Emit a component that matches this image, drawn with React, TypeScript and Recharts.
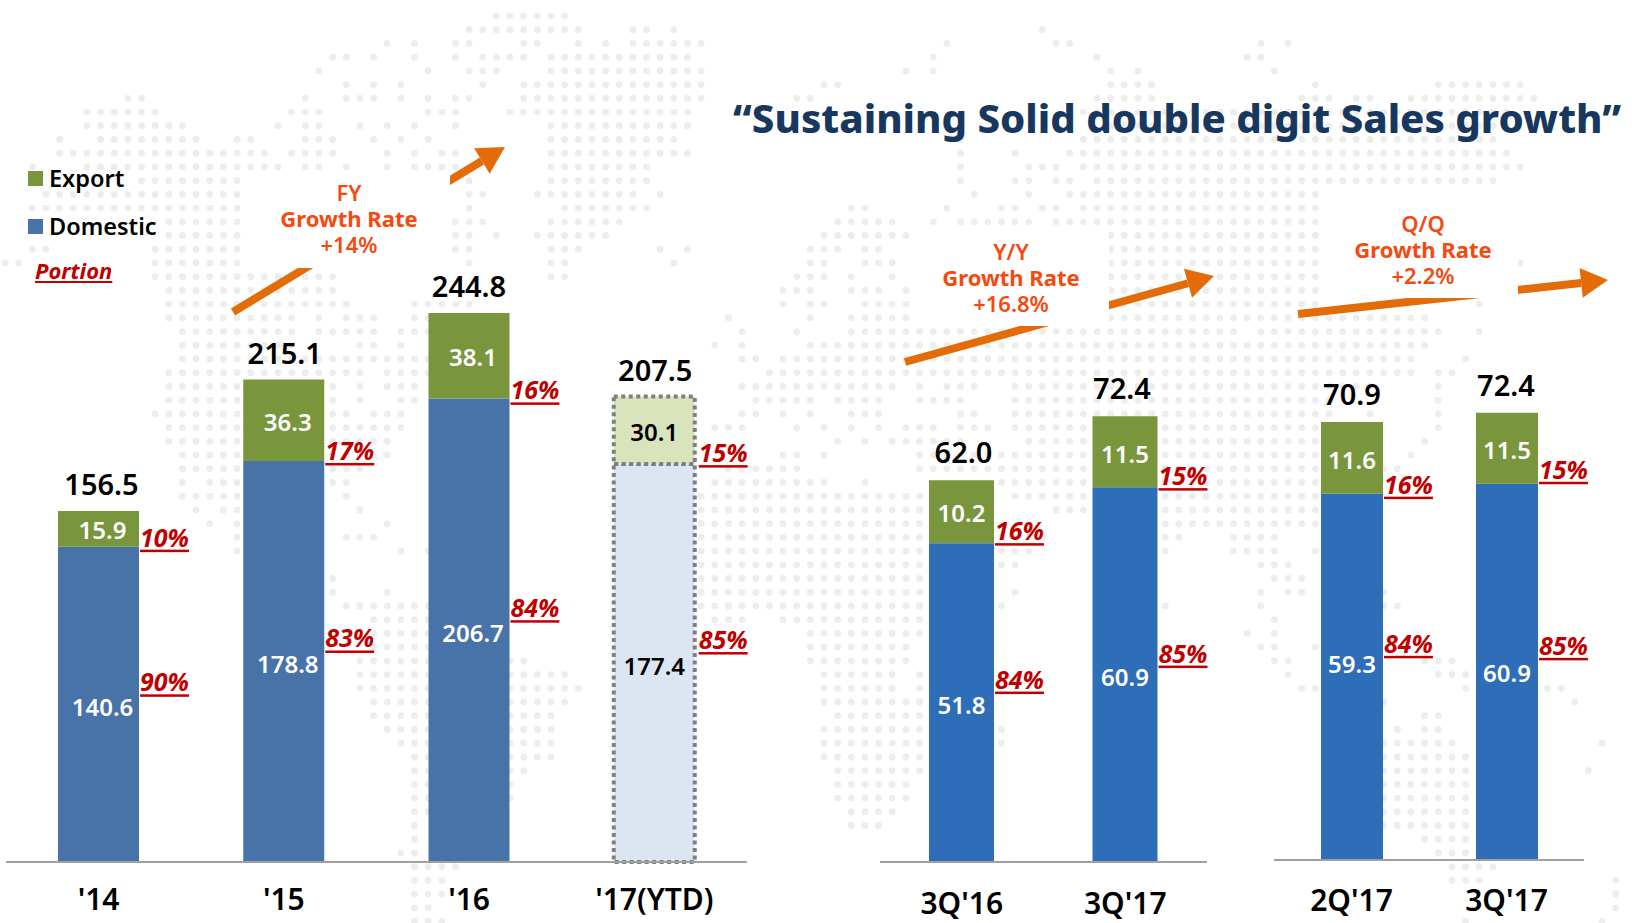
import { BarChart, Bar, Cell, XAxis, YAxis, LabelList, Legend } from 'recharts'

const FONT = '"Noto Sans", sans-serif'

// full year panel
const fyCategories = ["'14", "'15", "'16", "'17(YTD)"]
const fyDomestic = [140.6, 178.8, 206.7, 177.4]
const fyExport = [15.9, 36.3, 38.1, 30.1]
const fyTotal = [156.5, 215.1, 244.8, 207.5]
const fyDomesticPct = ['90%', '83%', '84%', '85%']
const fyExportPct = ['10%', '17%', '16%', '15%']

// year on year panel
const yyCategories = ["3Q'16", "3Q'17"]
const yyDomestic = [51.8, 60.9]
const yyExport = [10.2, 11.5]
const yyTotal = [62.0, 72.4]
const yyDomesticPct = ['84%', '85%']
const yyExportPct = ['16%', '15%']

// quarter on quarter panel
const qqCategories = ["2Q'17", "3Q'17"]
const qqDomestic = [59.3, 60.9]
const qqExport = [11.6, 11.5]
const qqTotal = [70.9, 72.4]
const qqDomesticPct = ['84%', '85%']
const qqExportPct = ['16%', '15%']

const legendItems = [
  { name: 'Export', color: '#7A963D' },
  { name: 'Domestic', color: '#4773A8' },
]

// background dot map, one string per row, column spans
const MAP_ROWS = [
  '36-41',
  '34-42 46-47 49 76',
  '28 30 33-34 38-39 42 44 46-51 69 77-78 92 94',
  '24-25 27 30 33 35-38 40-50 68 80 91-92',
  '23 31 34-36 40-51 66 68 81 83 93',
  '25 27 29 35 38-51 60-61 81-84 96 105-110 111',
  '9-10 22 25-27 29 31 33-34 38-51 58-59 80-84 95-97 99-100 103-112',
  '6-11 21-23 31-33 37-50 79-110',
  '6-13 20 22-23 26 28 30 33 40-50 70 81-110',
  '4 7-14 17-18 22-24 27 29 31 40-49 70 79-109',
  '4-19 21-24 28 30 32-33 40-50 70 74 78-110',
  '2 6-20 22-23 25 28 30-33 40-47 70 75-77 79-111',
  '10-17 34 40-47 70 74-75 77-78 80-109',
  '3-17 34-35 39-46 48 71 75 78-106 109-110',
  '2-17 34 41-47 62-63 69 73-74 76-77 79-96',
  '12-17 33-35 40-45 61-65 68 70-75 77-96',
  '12-17 33-34 36 39-44 60-66 81-96',
  '2-3 11-17 33-34 40-42 48 50 59-61 63-64 81-96',
  '0-1 11-17 34 40-41 49 59-60 63-65 81-96 111',
  '11-24 40-41 58-60 62 65 81-87 89-96',
  '12-24 57-59 62-64 66 81-87 88-96',
  '12-25 30-34 57 59-60 63-66 81-89 90-96 108',
  '12-21 23 25-27 30-34 53 59 62-66 81-91 92-103 104',
  '13-21 23-27 29-31 54 58 62-90 92-105 108',
  '13-21 26-27 29 52 54 59-89 90-103 104',
  '13-31 54-55 57-103 107',
  '12-26 28-31 56-103 105-106',
  '12-24 26 28-30 54-65 67 69-71 74-99 100 105',
  '12-24 26 29-30 55-59 61-64 67-70 74-97 105',
  '11-25 27-29 54-55 57 59 62-64 70-71 74-97 100 105',
  '12-29 52-54 58 60 62 64 66-68 70-72 74-97 105',
  '12-28 61 63 65-70 75-96 104',
  '13-17 24-28 57-58 60 67-79 85-96 103',
  '13-17 24-26 53-58 67-102',
  '13 15-17 24-25 52-60 63 73-100',
  '13-17 25 51-67 74-96',
  '14 16-17 26 51-67 77-79 85-96',
  '15 17 28 51-67 85-96',
  '17 25-27 51-67 73-76 85-86 90-93',
  '17 29 31 51-67 73-75 85 90-93 96',
  '51-67 73-74 92-94',
  '24 51-67 93-95',
  '24 28 51-67 74 92 94-95 101',
  '25-31 51-67 73 85 92 101-102',
  '27-31 52-54 57-67 93',
  '27-31 59-67 91 93',
  '27-31 59-66 92-93 96',
  '26-31 37-38 59-66 93-94 104-106',
  '26-31 37-41 60-65 67 94 105-107',
  '26-31 37-42 60-65 67 95-96 107 113-114',
  '27-31 37-41 60-67 101 115',
  '27-31 37-40 61-67 104-105',
  '28-31 37-40 60-67 73 102 104-105',
  '29-31 37-40 60-67 73 101-106 117',
  '30-31 37-40 60-67 101-107',
  '30-31 37-38 61-67 101-107 116',
  '30-31 37 61-66 101-107',
  '30-31 37 61-66 101-107',
  '30-31 62-65 101-107',
  '30 62-64 101-107',
  '30 104-107',
  '29-30 105-107',
  '30-33 106-109',
  '30-32 106-108 118',
  '30-32 118',
  '30-31 118',
  '30-32 107 117',
]

function DotMap() {
  const dots: any[] = []
  MAP_ROWS.forEach((row, r) => {
    row.split(' ').forEach((span) => {
      const [a, b] = span.split('-').map(Number)
      for (let c = a; c <= (b ?? a); c++) {
        dots.push(<circle key={`${r}-${c}`} cx={5 + c * 13.65} cy={16 + r * 13.72} r={3.4} fill="#EDEDED" />)
      }
    })
  })
  return (
    <svg width={1632} height={923} style={{ position: 'absolute', left: 0, top: 0 }}>
      {dots}
    </svg>
  )
}

function buildRows(cats: string[], dom: number[], exp: number[], total: number[], domPct: string[], expPct: string[]) {
  return cats.map((name, i) => ({
    name,
    domestic: dom[i],
    export: exp[i],
    total: total[i],
    domesticPct: domPct[i],
    exportPct: expPct[i],
  }))
}

function insideLabel(nudge: number, estimate: number, shifts: number[]) {
  return (props: any) => {
    const { x, y, width, height } = props.viewBox ?? props
    return (
      <text
        x={x + width / 2 + (props.index === estimate ? 0 : nudge)}
        y={y + height / 2 + shifts[props.index]}
        textAnchor="middle"
        dominantBaseline="central"
        fontFamily={FONT}
        fontSize={24}
        fontWeight={600}
        fill={props.index === estimate ? '#000' : '#fff'}
      >
        {Number(props.value).toFixed(1)}
      </text>
    )
  }
}

function pctLabel(kind: 'export' | 'domestic', shifts: number[], estimate: number) {
  return (props: any) => {
    const { x, y, width, height } = props.viewBox ?? props
    const cy = kind === 'export' ? y + height : y + height / 2
    return (
      <text
        x={x + width + (props.index === estimate ? 4 : 1)}
        y={cy + shifts[props.index]}
        dominantBaseline="central"
        fontFamily={FONT}
        fontSize={25}
        fontWeight={700}
        fontStyle="italic"
        fill="#C00000"
        textDecoration="underline"
      >
        {props.value}
      </text>
    )
  }
}

function totalLabel(shifts: number[], lift: number) {
  return (props: any) => {
    const { x, y, width } = props.viewBox ?? props
    return (
      <text
        x={x + width / 2 + shifts[props.index]}
        y={y - lift}
        textAnchor="middle"
        dominantBaseline="central"
        fontFamily={FONT}
        fontSize={29}
        fontWeight={600}
        fill="#000"
      >
        {Number(props.value).toFixed(1)}
      </text>
    )
  }
}

function LegendBox() {
  return (
    <div style={{ position: 'relative', fontFamily: FONT }}>
      {legendItems.map((item, i) => (
        <div key={item.name} style={{ position: 'absolute', left: 0, top: i * 48, display: 'flex', alignItems: 'center', height: 16 }}>
          <span style={{ width: 15, height: 15, background: item.color, marginRight: 6, display: 'block' }} />
          <span style={{ fontSize: 23.5, fontWeight: 600, color: '#000', whiteSpace: 'nowrap' }}>{item.name}</span>
        </div>
      ))}
      <span
        style={{
          position: 'absolute',
          left: 7,
          top: 85,
          fontSize: 22,
          fontWeight: 700,
          fontStyle: 'italic',
          color: '#C00000',
          textDecoration: 'underline',
        }}
      >
        Portion
      </span>
    </div>
  )
}

interface PanelProps {
  left: number
  top: number
  width: number
  plotHeight: number
  domainMax: number
  barSize: number
  rows: any[]
  domesticColor: string
  tickMargin: number
  domShift: number[]
  expShift: number[]
  domValueShift: number[]
  expValueShift: number[]
  totalShift: number[]
  totalLift: number
  nudge?: number
  estimate?: number
  legend?: boolean
}

const RIGHT_PAD = 50

function Panel({ left, top, width, plotHeight, domainMax, barSize, rows, domesticColor, tickMargin, domShift, expShift, domValueShift, expValueShift, totalShift, totalLift, nudge = 0, estimate = -1, legend }: PanelProps) {
  const dashed = { stroke: '#7F7F7F', strokeWidth: 4, strokeDasharray: '4 3.5' }
  return (
    <div style={{ position: 'absolute', left, top }}>
      <BarChart width={width + RIGHT_PAD} height={plotHeight + 61} data={rows} margin={{ top: 0, right: RIGHT_PAD, bottom: 0, left: 0 }}>
        <XAxis
          dataKey="name"
          height={61}
          stroke="#A0A0A0"
          strokeWidth={2}
          tickLine={false}
          tickMargin={tickMargin}
          tick={{ fontFamily: FONT, fontSize: 30, fontWeight: 600, fill: '#000' }}
          interval={0}
        />
        <YAxis hide domain={[0, domainMax]} />
        {legend && (
          <Legend content={<LegendBox />} wrapperStyle={{ left: 22, top: -64, width: 0, height: 0, bottom: 'auto' }} />
        )}
        <Bar dataKey="domestic" stackId="a" barSize={barSize} fill={domesticColor} isAnimationActive={false}>
          {rows.map((r, i) =>
            i === estimate ? <Cell key={r.name} fill="#DCE6F2" {...dashed} /> : <Cell key={r.name} fill={domesticColor} />
          )}
          <LabelList dataKey="domestic" content={insideLabel(nudge, estimate, domValueShift)} />
          <LabelList dataKey="domesticPct" content={pctLabel('domestic', domShift, estimate)} />
        </Bar>
        <Bar dataKey="export" stackId="a" barSize={barSize} fill="#7A963D" isAnimationActive={false}>
          {rows.map((r, i) =>
            i === estimate ? <Cell key={r.name} fill="#D9E4BD" {...dashed} /> : <Cell key={r.name} fill="#7A963D" />
          )}
          <LabelList dataKey="export" content={insideLabel(nudge, estimate, expValueShift)} />
          <LabelList dataKey="exportPct" content={pctLabel('export', expShift, estimate)} />
          <LabelList dataKey="total" content={totalLabel(totalShift, totalLift)} />
        </Bar>
      </BarChart>
    </div>
  )
}

function Arrow({ x1, y1, x2, y2, cut }: { x1: number; y1: number; x2: number; y2: number; cut: number[] }) {
  const len = Math.hypot(x2 - x1, y2 - y1)
  const ux = (x2 - x1) / len
  const uy = (y2 - y1) / len
  const bx = x2 - ux * 27
  const by = y2 - uy * 27
  const head = `${x2},${y2} ${bx - uy * 15},${by + ux * 15} ${bx + uy * 15},${by - ux * 15}`
  return (
    <g>
      <line x1={x1} y1={y1} x2={bx} y2={by} stroke="#E36C09" strokeWidth={8} />
      <polygon points={head} fill="#E36C09" />
      <rect x={cut[0]} y={cut[1]} width={cut[2] - cut[0]} height={cut[3] - cut[1]} fill="#fff" />
    </g>
  )
}

function GrowthNote({ x, y, lines }: { x: number; y: number; lines: string[] }) {
  return (
    <text textAnchor="middle" fontFamily={FONT} fontSize={22} fill="#F4490F">
      <tspan x={x} y={y} fontWeight={600}>{lines[0]}</tspan>
      <tspan x={x} y={y + 26} fontWeight={700}>{lines[1]}</tspan>
      <tspan x={x} y={y + 52} fontWeight={600}>{lines[2]}</tspan>
    </text>
  )
}

export default function App() {
  const fyRows = buildRows(fyCategories, fyDomestic, fyExport, fyTotal, fyDomesticPct, fyExportPct)
  const yyRows = buildRows(yyCategories, yyDomestic, yyExport, yyTotal, yyDomesticPct, yyExportPct)
  const qqRows = buildRows(qqCategories, qqDomestic, qqExport, qqTotal, qqDomesticPct, qqExportPct)

  return (
    <div style={{ position: 'absolute', left: 0, top: 0, width: 1632, height: 923, background: '#fff', overflow: 'hidden' }}>
      <DotMap />
      <svg width={1632} height={923} style={{ position: 'absolute', left: 0, top: 0 }}>
        <Arrow x1={233} y1={312} x2={505} y2={147} cut={[246, 172, 450, 268]} />
        <Arrow x1={905} y1={362} x2={1214} y2={276} cut={[914, 228, 1109, 326]} />
        <Arrow x1={1298} y1={314} x2={1608} y2={280} cut={[1323, 190, 1518, 298]} />
      </svg>
      <Panel
        left={6}
        top={234}
        width={741}
        plotHeight={628}
        domainMax={280}
        barSize={81}
        rows={fyRows}
        domesticColor="#4773A8"
        tickMargin={21}
        domShift={[-23, -24, -23, -24]}
        expShift={[-10, -11, -9, -12]}
        domValueShift={[2, 2, 2, 2]}
        expValueShift={[1, 1, 1, 1]}
        totalShift={[3, 1, 0, 1]}
        totalLift={27}
        nudge={4}
        estimate={3}
        legend
      />
      <Panel
        left={880}
        top={308}
        width={327}
        plotHeight={554}
        domainMax={90}
        barSize={65}
        rows={yyRows}
        domesticColor="#2E6DB8"
        tickMargin={25}
        domShift={[-24, -22]}
        expShift={[-13, -12]}
        domValueShift={[2, 2]}
        expValueShift={[1, 2]}
        totalShift={[2, -3]}
        totalLift={29}
      />
      <Panel
        left={1274}
        top={304}
        width={310}
        plotHeight={556}
        domainMax={90}
        barSize={62}
        rows={qqRows}
        domesticColor="#2E6DB8"
        tickMargin={24}
        domShift={[-34, -27]}
        expShift={[-10, -15]}
        domValueShift={[-13, 1]}
        expValueShift={[2, 1]}
        totalShift={[0, -1]}
        totalLift={28}
      />
      <svg width={1632} height={923} style={{ position: 'absolute', left: 0, top: 0, pointerEvents: 'none' }}>
        <GrowthNote x={349} y={201} lines={['FY', 'Growth Rate', '+14%']} />
        <GrowthNote x={1011} y={260} lines={['Y/Y', 'Growth Rate', '+16.8%']} />
        <GrowthNote x={1423} y={232} lines={['Q/Q', 'Growth Rate', '+2.2%']} />
        <text x={733} y={133} fontFamily={FONT} fontSize={39.5} fontWeight={800} fill="#17375E" textLength={888} lengthAdjust="spacingAndGlyphs">
          “Sustaining Solid double digit Sales growth”
        </text>
      </svg>
    </div>
  )
}
